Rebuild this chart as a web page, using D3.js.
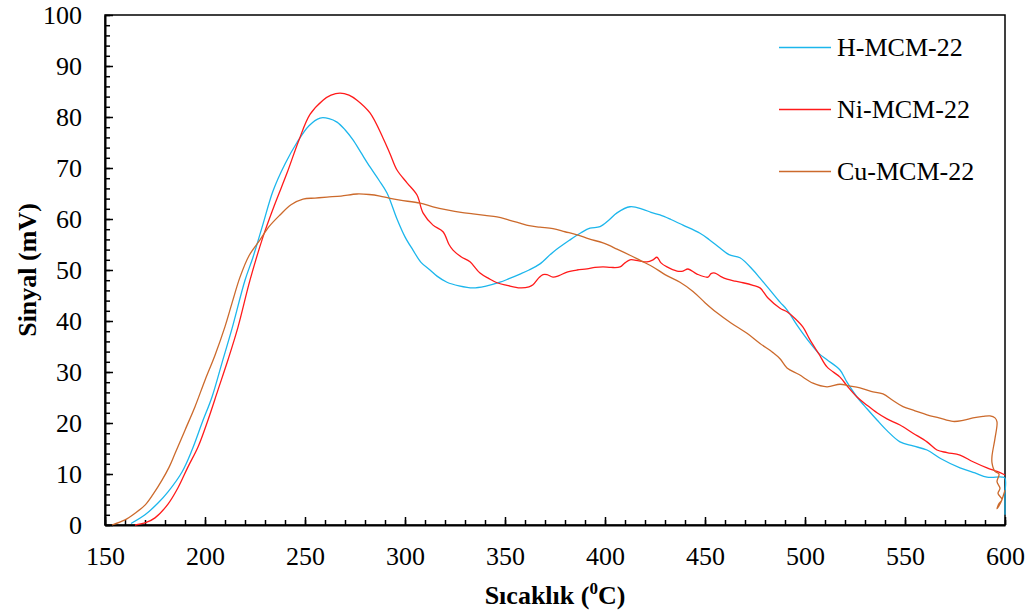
<!DOCTYPE html>
<html>
<head>
<meta charset="utf-8">
<script src="https://cdn.jsdelivr.net/npm/d3@7"></script>
<style>
    body { margin: 0; background: #fff; }
    svg, svg text, .axis { font-family: "Liberation Serif", "Times New Roman", serif; }
    .axis text { font-size: 26px; fill: #000; }
    .axis path { stroke: #000; stroke-width: 2px; }
    .axis line { stroke: #000; stroke-width: 1.5px; }
</style>
</head>
<body>
<div id="chart"></div>
<script>
// TPR curves, [temperature (°C), signal (mV)]
const hMcm22 = [
    [163, 0.3], [170, 2], [176.5, 4.3], [181.5, 6.5], [188.5, 10.4], [193.5, 14.7],
    [198.5, 20], [203.5, 25.1], [208.5, 31.8], [213.5, 38.5], [220, 48], [224, 52.5],
    [229, 59], [234, 65.5], [240, 70.8], [246, 75], [252, 78.3], [257.5, 79.8],
    [262, 79.7], [266, 79], [270, 77.5], [274, 75.5], [278, 73], [282.5, 70.2],
    [287, 67.6], [291, 65.1], [296, 60], [300, 56.5], [304, 53.9], [308, 51.5],
    [312.5, 50], [316, 48.8], [321, 47.6], [327, 46.9], [334, 46.5], [340, 46.8],
    [347.5, 47.6], [352, 48.3], [357.5, 49.2], [362, 50], [367.5, 51.2], [374, 53.5],
    [382.5, 55.9], [388, 57.3], [392.5, 58.2], [397.5, 58.5], [402, 59.8], [406, 61.2],
    [412.5, 62.4], [419, 61.9], [423, 61.3], [427.5, 60.8], [433, 59.9], [439, 58.8],
    [447.5, 57.2], [452, 56], [457.5, 54.3], [462, 53], [467.5, 52.4], [474, 50],
    [477.5, 48.4], [482, 46.3], [487.5, 43.7], [491, 42.2], [496, 39.2], [502.5, 35.7],
    [507, 33.6], [511, 32.4], [517.5, 30.4], [521, 28], [526, 25.1], [531, 22.8],
    [536, 20.6], [541, 18.5], [547.5, 16.3], [554, 15.5], [561, 14.7], [568, 13],
    [577.5, 11.2], [585, 10.2], [591, 9.4], [598.5, 9.4], [600, 9.2], [600, 6],
    [600, 3.5], [600, 2]
];

const niMcm22 = [
    [165, 0], [170, 0.4], [175, 1.4], [181.5, 4.1], [186.5, 7.3], [191.5, 11.4],
    [196.5, 15.3], [201.5, 20.6], [206.5, 26.5], [211.5, 32.4], [216.5, 38.8],
    [222.5, 48], [229, 56.5], [235, 63], [241, 69], [247, 75.5], [252.5, 80.5],
    [259, 83.3], [263, 84.3], [267.5, 84.7], [272, 84.3], [276, 83.3], [282.5, 80.8],
    [289, 75.9], [292.5, 72.8], [296, 69.6], [301, 67.1], [306, 64.7], [309, 61.2],
    [314, 58.8], [319, 57.5], [322, 55], [324, 53.9], [328, 52.6], [332.5, 51.6],
    [337.5, 49.4], [342, 48.3], [346, 47.5], [351, 47], [357.5, 46.5], [362, 46.7],
    [364, 47.1], [367, 48.5], [369, 49.1], [371, 49.1], [374, 48.6], [377, 48.9],
    [381, 49.6], [386, 50], [391, 50.2], [395, 50.5], [399, 50.6], [403, 50.5],
    [407.5, 50.6], [410, 51.4], [412.5, 52], [417, 51.8], [421, 51.6], [424, 52],
    [426, 52.5], [428, 51.4], [431, 50.6], [436, 49.8], [439, 49.8], [441.5, 50.2],
    [446, 49.2], [451.5, 48.6], [453, 49.3], [455, 49.4], [458, 48.7], [461, 48.2],
    [465, 47.8], [469, 47.5], [474, 47], [477.5, 46.5], [481.5, 44.5], [487.5, 42.5],
    [491, 41.8], [495, 40.5], [499, 38.8], [502.5, 36.3], [507, 33.5], [511, 31],
    [517.5, 29], [521, 27.3], [526, 25.1], [531, 23.5], [536, 22], [541, 20.8],
    [547.5, 19.6], [554, 18], [561, 16.3], [566, 14.7], [571, 14.2], [577.5, 13.7],
    [584, 12.4], [591, 11.2], [596, 10.5], [599, 10], [600, 9.8]
];

const cuMcm22 = [
    [153.5, 0], [160, 1], [165, 2.3], [170, 3.9], [174, 6], [178.5, 8.8],
    [182, 11.3], [185, 14], [190, 18.6], [195, 23.2], [200, 28.4], [205, 33.3],
    [210, 38.9], [213.5, 43.5], [217.5, 48.6], [222, 52.8], [227.5, 55.9],
    [232, 58.5], [237.5, 60.8], [243, 62.8], [249, 63.9], [255, 64.1], [261, 64.3],
    [268, 64.5], [276, 64.9], [282, 64.8], [287.5, 64.5], [292, 64.1], [297.5, 63.7],
    [307.5, 63.1], [314, 62.4], [321, 61.8], [328, 61.3], [334, 61], [340, 60.7],
    [346, 60.4], [352, 59.8], [357.5, 59.2], [362, 58.7], [367.5, 58.4],
    [374, 58.1], [380, 57.5], [386, 56.9], [392, 56.1], [399, 55.3], [406, 54.1],
    [412.5, 52.9], [418, 51.8], [424, 50.6], [430, 49.1], [437.5, 47.6],
    [444, 45.8], [450, 43.6], [456, 41.6], [463, 39.6], [471, 37.6], [477.5, 35.6],
    [484, 33.8], [487.5, 32.6], [491, 30.8], [497, 29.5], [504, 27.8], [511, 27.1],
    [517.5, 27.6], [522, 27.3], [527.5, 26.9], [533, 26.2], [539, 25.7],
    [544, 24.4], [549, 23.2], [555, 22.4], [561, 21.6], [567, 21], [574, 20.3],
    [579, 20.5], [584, 21], [589, 21.3], [592.5, 21.4], [595, 21], [596, 20.2],
    [595, 17], [593.5, 13.5], [593.5, 12.2], [595, 10.5], [597, 10], [596, 8.5],
    [597.5, 7.2], [596.5, 6.2], [598.5, 5], [597, 4.2], [596, 3.2], [598, 4.5],
    [599.5, 6.2], [600, 6.8]
];

const seriesNames = ["H-MCM-22", "Ni-MCM-22", "Cu-MCM-22"];
const seriesColors = ["#1cb6ec", "#ff1a1a", "#cc6a2c"];
const xTicks = [150, 200, 250, 300, 350, 400, 450, 500, 550, 600];
const yTicks = [0, 10, 20, 30, 40, 50, 60, 70, 80, 90, 100];

const serif = "'Liberation Serif', 'Times New Roman', serif";

const width = 1027,
    height = 616,
    margin = { top: 15, right: 22, bottom: 91, left: 105 };

const svg = d3
    .select("#chart")
    .append("svg")
    .attr("width", width)
    .attr("height", height)
    .attr("font-family", serif);

const x = d3
    .scaleLinear()
    .domain([150, 600])
    .range([margin.left, width - margin.right]);

const y = d3
    .scaleLinear()
    .domain([0, 100])
    .range([height - margin.bottom, margin.top]);

// frame (top and right sides)
svg.append("rect")
    .attr("x", x(150))
    .attr("y", y(100))
    .attr("width", x(600) - x(150))
    .attr("height", y(0) - y(100))
    .attr("fill", "none")
    .attr("stroke", "#000")
    .attr("stroke-width", 1.5);

// minor ticks
svg.append("g")
    .attr("class", "axis")
    .attr("transform", `translate(0,${y(0)})`)
    .call(d3.axisBottom(x).ticks(45).tickSize(-5).tickFormat(""))
    .call((g) => g.select(".domain").remove());

svg.append("g")
    .attr("class", "axis")
    .attr("transform", `translate(${x(150)},0)`)
    .call(d3.axisLeft(y).ticks(50).tickSize(-5).tickFormat(""))
    .call((g) => g.select(".domain").remove());

// major ticks + labels
svg.append("g")
    .attr("class", "axis")
    .attr("transform", `translate(0,${y(0)})`)
    .call(d3.axisBottom(x).tickValues(xTicks).tickSizeInner(-8).tickSizeOuter(0).tickPadding(22))
    .attr("font-family", serif);

svg.append("g")
    .attr("class", "axis")
    .attr("transform", `translate(${x(150)},0)`)
    .call(d3.axisLeft(y).tickValues(yTicks).tickSizeInner(-8).tickSizeOuter(0).tickPadding(23))
    .attr("font-family", serif);

// axis titles
const xTitle = svg.append("text")
    .attr("x", (x(150) + x(600)) / 2)
    .attr("y", 604)
    .attr("text-anchor", "middle")
    .attr("font-size", 26)
    .attr("font-weight", "bold");
xTitle.append("tspan").text("Sıcaklık (");
xTitle.append("tspan").attr("font-size", 17).attr("dy", -10).text("0");
xTitle.append("tspan").attr("dy", 10).text("C)");

svg.append("text")
    .attr("transform", `translate(36,${(y(0) + y(100)) / 2}) rotate(-90)`)
    .attr("text-anchor", "middle")
    .attr("font-size", 26)
    .attr("font-weight", "bold")
    .text("Sinyal (mV)");

// lines
const line = d3
    .line()
    .x((d) => x(d[0]))
    .y((d) => y(d[1]))
    .curve(d3.curveCatmullRom.alpha(0.5));

const allSeries = [hMcm22, niMcm22, cuMcm22];

svg.append("g")
    .selectAll("path")
    .data(allSeries)
    .join("path")
    .attr("d", line)
    .attr("fill", "none")
    .attr("stroke", (d, i) => seriesColors[i])
    .attr("stroke-width", 1.3);

// legend
const legend = svg.append("g")
    .selectAll("g")
    .data(seriesNames)
    .join("g")
    .attr("transform", (d, i) => `translate(779,${47.5 + i * 62})`);

legend.append("line")
    .attr("x1", 0)
    .attr("x2", 52)
    .attr("stroke", (d, i) => seriesColors[i])
    .attr("stroke-width", 1.3);

legend.append("text")
    .attr("x", 58)
    .attr("dy", 8.5)
    .attr("font-size", 26)
    .text((d) => d);
</script>
</body>
</html>
